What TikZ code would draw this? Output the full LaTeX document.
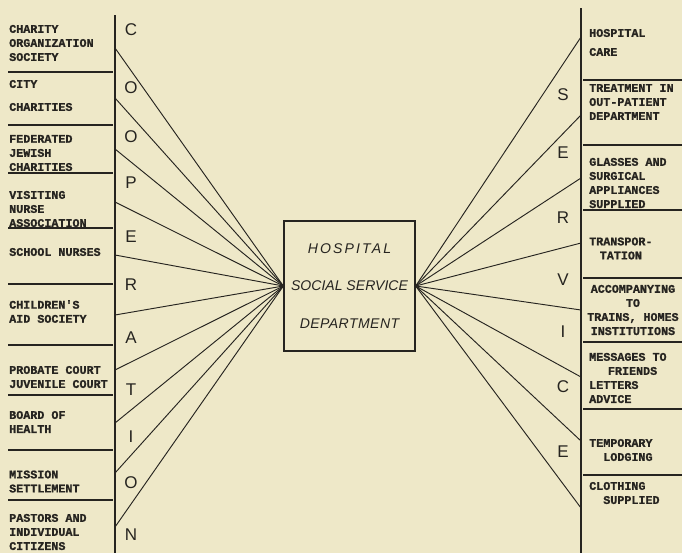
\documentclass[tikz,border=0pt]{standalone}
\usepackage{fontspec}
\setmonofont[BoldFont={Liberation Mono Bold},BoldFeatures={FakeBold=1.2}]{Liberation Mono}
\setsansfont{Liberation Sans}
\usepackage{tikz}
\newcommand{\leftx}{115}
\newcommand{\rightx}{581}
\definecolor{myPaper}{RGB}{238,232,200}
\definecolor{myInk}{RGB}{38,36,32}
\usetikzlibrary{positioning}
\tikzset{
  rule/.style={draw=myInk,line width=1.6pt},
  sep/.style={draw=myInk,line width=1.1pt},
  ray/.style={draw=myInk,line width=0.8pt},
  agency/.style={anchor=west,inner sep=0,align=left,text=myInk,font=\ttfamily\bfseries\fontsize{10}{12}\selectfont},
  letter/.style={inner sep=0,text=myInk,font=\sffamily\fontsize{14.5}{14}\selectfont},
  deptbox/.style={draw=myInk,line width=1.1pt,minimum width=3.93cm,minimum height=3.9cm,align=center,text=myInk,font=\sffamily\itshape\fontsize{12}{32}\selectfont},
}

\begin{document}
\begin{tikzpicture}[x=0.03cm,y=-0.03cm]
  \useasboundingbox[fill=myPaper] (0,0) rectangle (682,553);
  \node (dept) [deptbox] at (349.5,286) {{\addfontfeature{LetterSpace=15}HOSPITAL}\\SOCIAL SERVICE\\{\addfontfeature{LetterSpace=3}DEPARTMENT}};
  % the two rules
  \draw[rule] (\leftx,15) -- (\leftx,553);
  \draw[rule] (\rightx,8) -- (\rightx,553);
  % co-operation side
  \foreach \y [count=\i] in {72,125,173,228,284,345,395,450,500}
    \draw[sep] (8,\y) -- (113,\y);
  \foreach \ch/\y [count=\i] in {C/30,O/88,O/137,P/183,E/237,R/285,A/338,T/390,I/437,O/483,N/535}
    \node[letter] (co\i) at (131,\y) {\ch};
  \foreach \y [count=\i] in {48,98,149,202,255,315,370,423,473,527} {
    \coordinate (in\i) at (\leftx,\y);
    \path[ray] (in\i) -- (dept.west);
  }
  \node[agency] (cos) at (9,43) {CHARITY\\ORGANIZATION\\SOCIETY};
  \node[agency] (city) at (9,95.5) {CITY\\[7.6pt]CHARITIES};
  \node[agency] (fjc) at (9,153) {FEDERATED\\JEWISH\\CHARITIES};
  \node[agency] (vna) at (9,209) {VISITING\\NURSE\\ASSOCIATION};
  \node[agency] (school) at (9,252) {SCHOOL NURSES};
  \node[agency] (aid) at (9,311.5) {CHILDREN'S\\AID SOCIETY};
  \node[agency] (court) at (9,377) {PROBATE COURT\\JUVENILE COURT};
  \node[agency] (health) at (9,422) {BOARD OF\\HEALTH};
  \node[agency] (mission) at (9,481.5) {MISSION\\SETTLEMENT};
  \node[agency] (pastors) at (9,532) {PASTORS AND\\INDIVIDUAL\\CITIZENS};
  % service side
  \foreach \y in {80,145,210,278,342,409,475}
    \draw[sep] (583,\y) -- (682,\y);
  \foreach \ch/\y [count=\i] in {S/95,E/153,R/218,V/280,I/332,C/387,E/452}
    \node[letter] (sv\i) at (563,\y) {\ch};
  \foreach \y [count=\i] in {37,115,178,243,310,377,441,508} {
    \coordinate (out\i) at (\rightx,\y);
    \path[ray] (dept.east) -- (out\i);
  }
  \node[agency] (care) at (589,42.5) {HOSPITAL\\[4.2pt]CARE};
  \node[agency] (outpat) at (589,102) {TREATMENT IN\\OUT-PATIENT\\DEPARTMENT};
  \node[agency] (glasses) at (589,183) {GLASSES AND\\SURGICAL\\APPLIANCES\\SUPPLIED};
  \node[agency,align=center] (transport) at (589,248.5) {TRANSPOR-\\TATION};
  \node[agency,align=center] (accomp) at (587,310) {ACCOMPANYING\\TO\\TRAINS, HOMES\\INSTITUTIONS};
  \node[agency] (messages) at (589,378) {MESSAGES TO\\\hspace*{1.6em}FRIENDS\\LETTERS\\ADVICE};
  \node[agency] (lodging) at (589,450) {TEMPORARY\\\hspace*{1.2em}LODGING};
  \node[agency] (clothing) at (589,493) {CLOTHING\\\hspace*{1.2em}SUPPLIED};
\end{tikzpicture}
\end{document}
